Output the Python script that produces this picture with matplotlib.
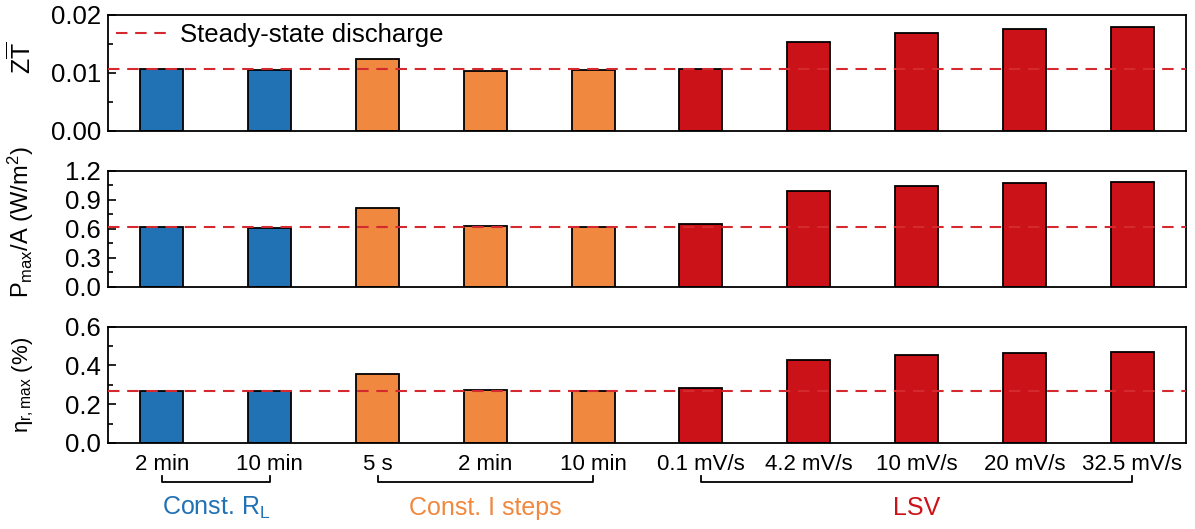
import numpy as np
import matplotlib
matplotlib.use("Agg")
import matplotlib.pyplot as plt
import matplotlib.transforms as mtransforms

plt.rcParams["font.family"] = ["Liberation Sans", "DejaVu Sans"]
plt.rcParams["mathtext.fontset"] = "custom"
plt.rcParams["mathtext.rm"] = "Liberation Sans"
plt.rcParams["mathtext.it"] = "Liberation Sans"
plt.rcParams["mathtext.bf"] = "Liberation Sans:bold"

# ---------------- DATA ----------------
tick_labels = ["2 min", "10 min", "5 s", "2 min", "10 min",
               "0.1 mV/s", "4.2 mV/s", "10 mV/s", "20 mV/s", "32.5 mV/s"]
bar_group = [0, 0, 1, 1, 1, 2, 2, 2, 2, 2]
group_names = [r"Const. R$_\mathrm{L}$", "Const. I steps", "LSV"]
group_colors = ["#2171b5", "#f0883f", "#cb1218"]

zt_values = [0.01061, 0.01049, 0.01245, 0.01027, 0.01044,
             0.01067, 0.01539, 0.01684, 0.01758, 0.01798]
pmax_values = [0.614, 0.610, 0.814, 0.631, 0.621,
               0.649, 0.987, 1.045, 1.070, 1.083]
eta_values = [0.267, 0.266, 0.357, 0.274, 0.269,
              0.281, 0.428, 0.455, 0.466, 0.471]

steady_zt = 0.01072
steady_pmax = 0.618
steady_eta = 0.269

panels = [
    (zt_values, steady_zt, (0, 0.02), [0, 0.01, 0.02], ["0.00", "0.01", "0.02"],
     r"$\mathrm{Z\overline{T}}$", 18, 0.63),
    (pmax_values, steady_pmax, (0, 1.2), [0, 0.3, 0.6, 0.9, 1.2],
     ["0.0", "0.3", "0.6", "0.9", "1.2"], r"P$_\mathrm{max}$/A (W/m$^\mathrm{2}$)", 17, 0.56),
    (eta_values, steady_eta, (0, 0.6), [0, 0.2, 0.4, 0.6],
     ["0.0", "0.2", "0.4", "0.6"], r"$\mathrm{\eta_{r,max}}$ (%)", 16, 0.5),
]

# ---------------- FIGURE ----------------
fig = plt.figure(figsize=(11.95, 5.29), dpi=100)
axes_boxes = [
    (108 / 1195, 1 - 131 / 529, 1078 / 1195, 116 / 529),
    (108 / 1195, 1 - 287 / 529, 1078 / 1195, 116.5 / 529),
    (108 / 1195, 1 - 443 / 529, 1078 / 1195, 116.5 / 529),
]

x = np.arange(len(tick_labels))
colors = [group_colors[g] for g in bar_group]

for i, (vals, steady, ylim, yticks, ylabels, ylab, labsize, laby) in enumerate(panels):
    ax = fig.add_axes(axes_boxes[i])
    ax.bar(x, vals, width=0.4, color=colors, edgecolor="black", linewidth=1.3, zorder=2)
    ax.axhline(steady, color="#d42a2f", linestyle=(0, (5.5, 3.7)), linewidth=1.5,
               zorder=3, label="Steady-state discharge")
    ax.set_xlim(-0.5, len(tick_labels) - 0.5)
    ax.set_ylim(*ylim)
    ax.set_yticks(yticks)
    ax.set_yticklabels(ylabels)
    minor = [(yticks[k] + yticks[k + 1]) / 2 for k in range(len(yticks) - 1)]
    ax.set_yticks(minor, minor=True)
    ax.tick_params(axis="y", which="major", direction="in", length=6, width=1.2,
                   labelsize=18.5, pad=5)
    ax.tick_params(axis="y", which="minor", direction="in", length=3.5, width=1.2)
    for sp in ax.spines.values():
        sp.set_linewidth(1.3)
    ax.set_xticks(x)
    if i < 2:
        ax.tick_params(axis="x", length=0, labelbottom=False)
    else:
        ax.set_xticklabels(tick_labels)
        ax.tick_params(axis="x", length=0, labelsize=16, pad=8)
    ax.set_ylabel(ylab, fontsize=labsize)
    ax.yaxis.set_label_coords(-0.067, laby)
    if i == 0:
        ax.legend(loc="upper left", frameon=False, fontsize=18.5, handlelength=2.0,
                  borderaxespad=0.1, borderpad=0.2, handletextpad=0.5)

    if i == 2:
        # group brackets below the x axis
        trans = mtransforms.blended_transform_factory(ax.transData, ax.transAxes)
        for g, name in enumerate(group_names):
            idx = [k for k, b in enumerate(bar_group) if b == g]
            x0, x1 = idx[0], idx[-1]
            ax.plot([x0, x0, x1, x1], [-0.28, -0.335, -0.335, -0.28], color="black",
                    linewidth=1.3, transform=trans, clip_on=False)
            ax.text((x0 + x1) / 2, -0.56, name, color=group_colors[g], fontsize=18,
                    ha="center", va="center", transform=trans)

fig.savefig("out.png", dpi=100)
